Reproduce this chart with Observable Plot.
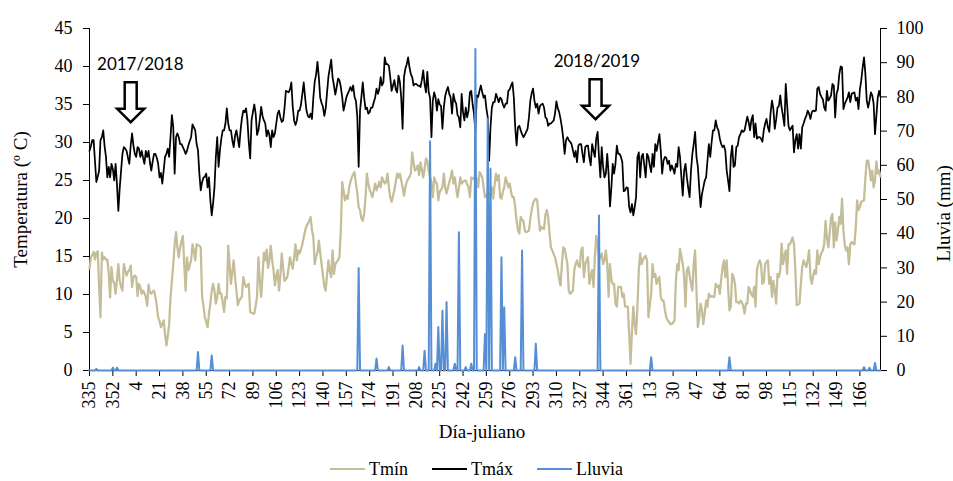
<!DOCTYPE html>
<html><head><meta charset="utf-8">
<script src="https://cdn.jsdelivr.net/npm/d3@7"></script>
<script src="https://cdn.jsdelivr.net/npm/@observablehq/plot@0.6"></script>
<style>
body{margin:0;background:#fff;}
#chart{width:953px;}
.legend{display:flex;justify-content:center;align-items:center;height:38px;width:953px;font-family:'Liberation Serif',serif;font-size:18px;color:#000;}
.legend .item{display:flex;align-items:center;margin:0 12px;}
.legend .sw{width:35px;height:0;border-top:2.5px solid;margin-right:4px;}
</style></head><body><div id="chart"></div><script>
// Daily series from 1 Dec 2017 (julian 335) to 30 Jun 2019; index = day number
const tmax = [
28.9,29.5,30.3,30.3,27.5,24.8,25.5,26.3,30.3,30.7,
31.6,29.5,28.1,25.4,26.8,25.4,27.2,26.5,25.0,27.2,
24.5,21.0,24.0,26.3,28.5,29.4,29.2,28.9,28.0,27.2,
29.6,31.2,29.6,28.5,28.1,29.4,29.2,28.1,28.9,28.0,
27.2,28.9,28.1,28.9,27.4,26.3,27.5,28.5,28.5,28.0,
27.2,25.4,26.0,24.6,26.3,28.1,28.5,29.2,28.1,30.7,
33.6,32.0,25.9,30.7,31.2,30.7,29.8,29.8,29.4,29.0,
28.5,28.9,29.6,30.2,30.7,32.4,32.0,31.6,29.8,29.0,
25.9,23.7,24.8,25.4,25.5,25.9,24.1,25.4,22.4,20.4,
22.0,24.1,28.1,30.7,26.8,29.0,30.5,31.6,31.6,32.5,
34.5,32.5,31.6,31.6,30.3,29.4,30.9,31.6,30.5,29.4,
31.6,33.2,34.2,34.0,34.5,32.9,30.0,27.9,32.9,34.0,
35.0,33.8,31.0,31.6,33.0,34.7,33.5,32.9,32.5,30.8,
31.6,31.0,29.4,31.6,30.7,31.2,32.5,33.8,34.2,33.3,
32.7,32.9,34.5,36.8,36.7,36.6,37.0,37.9,34.7,32.9,
32.3,32.9,34.2,34.2,35.0,36.4,37.9,35.9,34.2,33.5,
33.3,33.8,33.1,35.9,38.0,38.9,40.6,38.6,35.9,35.2,
34.7,33.5,34.5,36.6,38.7,39.8,40.9,38.6,37.5,36.3,
37.3,38.4,38.2,37.3,36.0,34.2,35.0,35.9,36.4,36.8,
37.3,36.8,37.5,36.0,35.5,33.4,26.8,34.2,36.0,37.9,
35.9,34.4,34.6,33.8,34.0,34.6,34.6,35.3,35.9,37.1,
36.4,37.0,38.6,37.5,37.9,41.2,40.3,40.3,40.1,38.6,
36.8,37.5,38.2,37.0,36.6,38.8,38.0,35.9,31.8,38.6,
39.7,40.3,41.2,39.9,39.0,38.6,37.5,37.7,37.7,37.5,
37.5,37.3,38.2,39.5,37.7,36.6,39.3,36.6,35.9,30.7,
35.5,36.6,35.9,34.2,35.7,35.0,34.8,31.8,34.6,36.1,
36.8,37.3,36.4,35.9,33.8,36.4,35.5,35.1,33.6,33.3,
32.0,36.4,34.0,32.9,34.6,33.3,34.2,36.6,36.8,35.0,
33.8,31.4,36.2,36.0,36.8,37.5,36.6,35.9,36.2,34.5,
33.3,27.6,32.0,34.6,35.3,35.3,36.4,35.9,35.3,35.9,
35.7,35.0,34.6,35.1,35.1,36.8,37.0,37.5,37.9,35.9,
32.0,29.6,32.0,32.2,31.6,31.1,30.7,31.0,31.4,31.8,
33.3,35.5,36.5,37.1,35.5,34.6,35.1,33.8,34.8,35.0,
35.1,34.6,33.3,33.1,32.2,32.5,32.5,32.7,32.9,33.8,
35.4,34.5,34.0,33.1,32.0,30.5,28.5,30.3,30.7,30.3,
30.1,29.8,29.0,28.1,28.9,27.4,29.6,29.8,29.8,28.5,
27.4,29.4,29.6,29.6,28.0,27.0,29.8,28.9,28.1,30.5,
31.4,28.1,25.4,29.4,26.8,25.4,25.9,28.5,25.9,21.6,
24.0,27.2,25.9,27.2,29.6,28.5,28.5,28.1,27.4,23.6,
23.7,24.1,24.0,21.5,20.8,21.9,20.4,21.5,22.8,28.1,
28.7,25.4,28.1,28.5,27.0,25.4,28.5,28.1,27.0,26.1,
28.5,26.8,29.8,28.9,30.0,31.1,28.9,25.9,27.6,28.1,
28.0,27.2,27.6,26.3,27.0,26.5,25.9,27.2,26.8,29.4,
28.1,25.5,23.0,26.3,27.2,25.4,24.0,22.8,26.3,28.5,
29.8,31.4,28.1,26.8,24.0,21.5,23.2,24.1,25.0,25.4,
27.6,29.8,28.1,30.0,31.6,31.6,32.9,32.0,31.6,30.5,
29.8,29.4,29.6,28.9,26.3,25.0,23.6,28.1,29.6,26.8,
27.0,29.4,29.6,30.7,31.1,31.6,31.4,31.6,32.5,33.4,
32.7,31.6,33.0,33.6,30.7,32.5,30.5,30.7,30.7,30.5,
30.1,31.6,32.5,33.1,32.0,31.4,34.0,35.5,34.4,31.8,
33.0,34.6,34.8,36.2,34.6,33.5,32.2,37.7,35.0,32.2,
31.6,31.9,32.2,28.7,30.3,31.1,29.2,31.1,29.2,32.0,
32.5,33.1,33.5,34.2,33.8,33.1,34.0,34.2,34.1,34.2,
37.1,37.3,36.4,36.0,35.7,34.6,34.2,36.8,35.5,35.8,
36.2,37.7,37.5,33.3,36.4,37.0,39.0,40.0,39.9,34.4,
35.1,35.5,35.9,36.6,35.3,36.4,36.5,36.6,35.5,35.9,
34.4,37.0,38.2,39.9,41.2,39.0,35.5,34.6,35.5,36.6,
36.2,35.1,31.1,33.5,35.9,36.8,36.0
];
const tmin = [
13.4,14.9,15.2,15.6,14.6,15.5,15.7,11.0,7.0,15.5,
14.6,14.9,14.6,14.6,12.8,9.6,13.6,11.8,11.5,10.1,
12.0,14.0,11.8,11.0,10.5,14.0,13.2,12.5,13.0,13.2,
13.8,11.0,12.3,12.5,12.3,9.8,11.4,11.0,10.1,10.5,
10.2,9.7,8.5,11.3,10.3,10.1,10.4,10.5,9.7,8.5,
7.0,6.5,5.7,6.1,6.6,4.8,3.3,4.5,6.1,9.7,
11.8,14.0,16.6,18.2,16.2,14.9,16.2,17.0,17.7,14.0,
10.5,14.9,13.2,13.8,14.5,16.6,15.8,14.5,16.6,16.5,
16.4,16.2,9.7,8.5,7.0,6.4,5.7,7.5,8.8,10.5,
11.4,10.5,8.8,9.7,11.4,10.1,10.1,9.0,7.7,9.7,
9.5,16.4,14.0,11.4,13.0,14.5,12.3,10.5,8.6,9.2,
9.5,9.7,12.3,11.5,11.0,11.2,11.4,7.7,7.6,7.5,
7.5,8.5,9.7,14.9,11.8,9.7,12.5,15.5,14.5,15.9,
13.5,14.5,16.4,14.5,13.2,11.2,12.5,13.2,10.5,12.5,
15.4,13.5,11.8,12.0,12.3,13.5,14.9,14.0,13.4,14.9,
16.6,14.5,15.8,15.4,16.0,16.6,17.5,18.4,19.0,19.3,
19.7,20.2,18.5,17.5,14.0,15.0,15.5,17.1,15.5,14.0,
12.5,11.0,10.5,12.7,14.5,13.0,12.3,15.8,12.7,14.0,
14.3,14.5,14.9,18.4,24.8,23.7,22.4,23.0,22.6,24.0,
24.8,25.4,25.8,26.1,24.6,23.3,21.5,21.1,20.0,19.7,
20.6,22.8,25.9,24.6,23.8,23.3,22.8,23.7,24.6,23.7,
24.2,24.8,24.1,25.4,25.0,24.6,24.8,25.9,24.1,22.8,
22.2,23.0,23.7,24.8,25.9,25.4,25.9,25.0,24.1,23.0,
24.1,24.8,25.2,25.5,25.9,28.7,27.4,26.3,26.5,27.0,
25.7,27.4,26.5,25.4,26.5,27.9,27.6,26.3,25.5,24.6,
22.8,25.4,24.8,24.6,22.4,23.5,23.8,24.1,25.9,24.1,
23.3,24.0,24.8,25.5,26.3,24.6,25.4,24.0,22.8,24.0,
25.4,24.6,24.8,25.0,25.0,24.5,24.1,22.8,25.4,25.2,
25.2,25.9,25.0,24.1,26.1,25.8,25.4,24.1,22.8,23.0,
23.3,23.1,23.0,24.1,22.6,24.5,25.9,25.0,25.7,22.8,
22.6,23.5,24.1,25.4,24.8,24.1,24.6,23.5,22.8,22.8,
21.5,19.7,18.5,18.0,20.2,19.8,19.7,18.4,18.2,18.3,
18.4,20.0,21.1,22.0,22.4,22.6,22.4,20.2,18.4,18.9,
18.7,18.6,20.5,21.1,20.2,18.0,16.2,15.8,15.3,14.9,
14.0,13.2,12.0,11.2,14.0,16.2,16.0,15.0,14.0,10.5,
10.1,10.3,10.5,13.2,14.0,14.5,13.8,13.6,15.8,16.2,
12.3,14.0,14.5,14.9,11.4,12.5,13.2,11.0,14.9,17.7,
16.6,14.5,15.0,15.4,14.0,14.5,15.8,14.0,9.7,14.0,
12.0,11.4,11.4,8.8,8.4,11.0,11.0,11.0,9.7,10.1,
8.4,8.4,8.4,4.8,0.9,5.2,8.4,6.0,4.8,8.4,
13.2,15.4,14.0,14.5,14.9,15.1,14.5,7.0,8.5,10.1,
14.0,12.3,12.7,11.4,12.0,12.3,9.7,9.2,9.2,8.0,
7.0,6.6,6.4,6.1,6.1,6.3,6.6,11.8,14.0,13.2,
16.0,15.0,14.0,12.3,8.4,13.2,13.6,12.5,11.4,10.5,
14.0,15.8,10.5,5.7,7.0,8.8,7.9,6.1,7.5,9.2,
8.4,10.1,9.7,9.8,9.7,9.7,11.4,11.0,11.2,10.1,
12.0,13.6,14.5,12.3,14.5,11.0,7.9,8.4,12.7,12.3,
11.4,9.0,9.0,8.8,9.2,9.0,8.5,7.5,8.8,8.8,
11.0,10.5,10.0,9.7,11.0,8.4,13.2,14.0,14.5,14.0,
11.4,11.6,14.0,14.3,14.5,11.4,12.3,9.7,11.8,10.5,
8.8,12.7,12.3,13.2,16.7,14.0,15.0,15.8,12.7,16.6,
16.6,17.0,17.5,16.6,13.2,8.6,8.7,8.8,11.4,13.6,
14.5,14.0,13.6,14.5,15.8,12.3,11.4,12.5,13.2,12.7,
15.8,14.0,14.9,15.5,15.8,16.6,19.7,17.5,16.2,18.0,
20.2,20.6,16.2,19.5,17.1,18.5,20.2,19.3,22.6,18.4,
16.5,15.8,16.2,14.0,16.6,16.9,16.7,16.6,18.9,22.4,
21.1,21.5,22.2,22.3,22.4,25.4,27.6,27.6,26.5,25.0,
26.3,24.1,25.0,27.5,25.9,26.3,25.5
];
// Rain events (day index, mm); all other days 0 mm
const rainDay = [5, 17, 20, 79, 89, 196, 209, 218, 228, 240, 244, 248, 252, 254, 257, 260, 266, 269, 274, 278, 281, 288, 290, 292, 300, 302, 310, 315, 325, 371, 409, 466, 564, 568, 572];
const rainMM  = [0.5, 0.8, 0.8, 5.4, 4.4, 30, 3.5, 1.0, 7.3, 1.0, 5.8, 67, 2, 12.7, 17.5, 20, 2, 40.4, 1, 2, 94, 10.7, 73.6, 59, 33.1, 18.5, 3.9, 35.1, 7.8, 45.3, 3.9, 3.9, 1.0, 0.8, 2.2];
const tickLabels = ["335","352","4","21","38","55","72","89","106","123","140","157","174","191","208","225","242","259","276","293","310","327","344","361","13","30","47","64","81","98","115","132","149","166"];
const tempTicks = [0,5,10,15,20,25,30,35,40,45];
const rainTicks = [0,10,20,30,40,50,60,70,80,90,100];
const seasons = [{label:"2017/2018", day:37, temp:40.3},{label:"2018/2019", day:369.5, temp:40.6}];
const arrows = [{day:30, temp:35.3},{day:368.5, temp:35.7}];

const SERIF = "'Liberation Serif',serif";
const SCALE = 45/100; // right axis (mm) mapped onto left axis (°C)
const BLUE = "#558ED5", TAN = "#C4BD97";
const lastDay = tmax.length - 1;
const days = tmax.map((v,i)=>({i, tmax:v, tmin:tmin[i], rain:0}));
rainDay.forEach((d,k)=>{ days[d].rain = rainMM[k]; });
const tickIdx = tickLabels.map((_,k)=>k*17);
const labelOf = new Map(tickIdx.map((d,k)=>[d, tickLabels[k]]));

const arrowSymbol = {
  draw(ctx, size){
    const r = Math.sqrt(size/Math.PI);
    const sw = 0.3*r, hw = 0.675*r, neck = 0.33*r;
    ctx.moveTo(-sw,-r); ctx.lineTo(sw,-r); ctx.lineTo(sw,neck); ctx.lineTo(hw,neck);
    ctx.lineTo(0,r); ctx.lineTo(-hw,neck); ctx.lineTo(-sw,neck); ctx.closePath();
  }
};

const chart = Plot.plot({
  width:953, height:450, marginLeft:89, marginRight:73, marginTop:28, marginBottom:80,
  style:{fontFamily:SERIF, fontSize:"18px", background:"#fff", color:"#000", overflow:"visible"},
  x:{domain:[0,lastDay]},
  y:{domain:[0,45]},
  marks:[
    Plot.ruleX([0,lastDay],{y1:0,y2:45,stroke:"#000",strokeWidth:1}),
    Plot.ruleY([0],{stroke:"#000"}),
    Plot.axisY({ticks:tempTicks, tickSize:6, tickPadding:11, label:null, fontFamily:SERIF, fontSize:18}),
    Plot.axisY({anchor:"right", ticks:rainTicks.map(v=>v*SCALE), tickFormat:d=>String(Math.round(d/SCALE)), tickSize:6, tickPadding:10, label:null, fontFamily:SERIF, fontSize:18}),
    Plot.axisX({ticks:tickIdx, tickFormat:d=>labelOf.get(d), tickRotate:-90, tickSize:6, tickPadding:5, label:null, fontFamily:SERIF, fontSize:18}),
    Plot.line(days,{x:"i", y:"tmin", stroke:TAN, strokeWidth:2.25}),
    Plot.line(days,{x:"i", y:"tmax", stroke:"#000", strokeWidth:1.75}),
    Plot.line(days,{x:"i", y:d=>d.rain*SCALE, stroke:BLUE, strokeWidth:2}),
    Plot.dot(arrows,{x:"day", y:"temp", r:20, symbol:arrowSymbol, fill:"#fff", stroke:"#000", strokeWidth:2.5}),
    Plot.text(seasons,{x:"day", y:"temp", text:"label", fontFamily:"Lato", fontSize:17}),
    Plot.text(["Día-juliano"],{frameAnchor:"bottom", dy:67, dx:-3, textAnchor:"middle", fontFamily:SERIF, fontSize:19}),
    Plot.text(["Temperatura (º C)"],{frameAnchor:"left", dx:-69, dy:0, rotate:-90, textAnchor:"middle", fontFamily:SERIF, fontSize:19}),
    Plot.text(["Lluvia (mm)"],{frameAnchor:"right", dx:63, dy:14, rotate:-90, textAnchor:"middle", fontFamily:SERIF, fontSize:19})
  ]
});
document.getElementById("chart").appendChild(chart);

const legend = document.createElement("div");
legend.className = "legend";
[["Tmín",TAN],["Tmáx","#000"],["Lluvia",BLUE]].forEach(([name,color])=>{
  const it = document.createElement("div"); it.className="item";
  const sw = document.createElement("span"); sw.className="sw"; sw.style.borderTopColor=color;
  const tx = document.createElement("span"); tx.textContent=name;
  it.appendChild(sw); it.appendChild(tx); legend.appendChild(it);
});
document.getElementById("chart").appendChild(legend);
</script></body></html>
